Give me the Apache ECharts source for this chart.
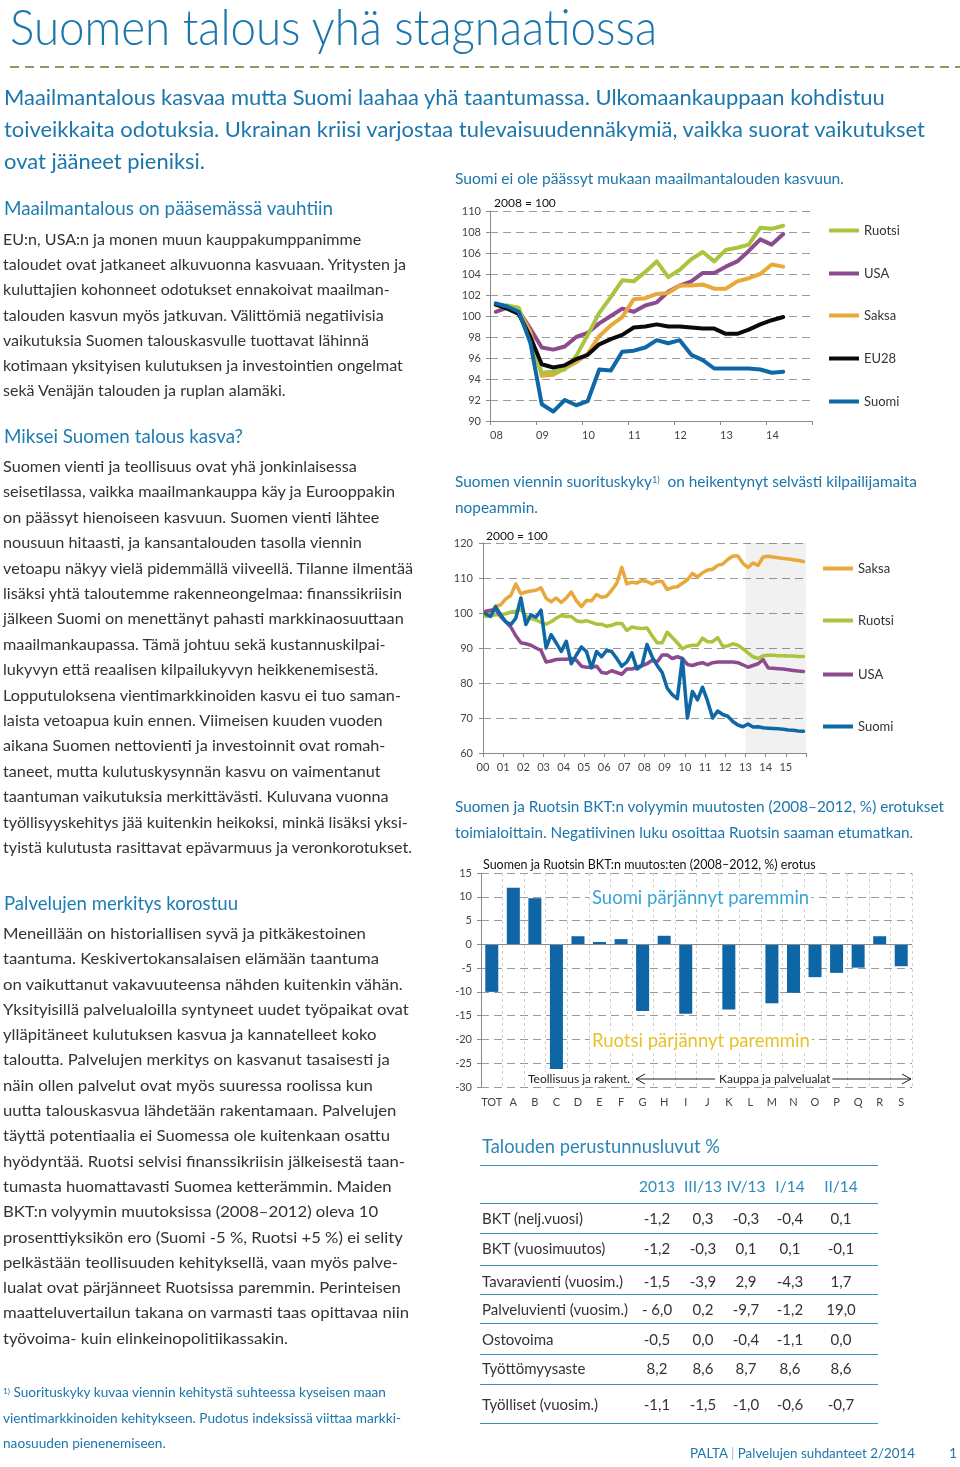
<!DOCTYPE html>
<html><head><meta charset="utf-8">
<script src="https://cdn.jsdelivr.net/npm/echarts@6/dist/echarts.min.js"></script>
<style>
html,body{margin:0;padding:0;background:#fff}
body{width:960px;height:1467px;position:relative;overflow:hidden;font-family:Lato,'Open Sans',sans-serif}
#chart{position:absolute;left:0;top:0;width:960px;height:1467px;z-index:1}
.t{position:absolute;white-space:nowrap;transform-origin:0 0;width:max-content;z-index:2}
.t div{white-space:nowrap;width:max-content}
.body{font-size:15px;color:#333}
.blue{color:#1b76ac}
.h2{font-size:19px;color:#1d7cb2}
sup{font-size:0.6em;vertical-align:top;position:relative;top:-0.1em}
.rule{position:absolute;left:480px;width:398px;height:0;border-top:1.5px solid #3f92ba;z-index:2}
.cell{position:absolute;width:70px;text-align:center;font-size:15px;color:#333;z-index:2;white-space:nowrap}
</style></head>
<body>
<div id="chart"></div>

<div class="t blue" data-w="647" style="left:10px;top:-2px;font-size:50px;line-height:56px;font-weight:300">Suomen talous yhä stagnaatiossa</div>

<div class="t blue" data-w="921" style="left:4px;top:81px;font-size:22px;line-height:32px">
<div>Maailmantalous kasvaa mutta Suomi laahaa yhä taantumassa. Ulkomaankauppaan kohdistuu</div>
<div>toiveikkaita odotuksia. Ukrainan kriisi varjostaa tulevaisuudennäkymiä, vaikka suorat vaikutukset</div>
<div>ovat jääneet pieniksi.</div>
</div>

<div class="t blue" data-w="389" style="left:455px;top:168px;font-size:15px;line-height:20px">Suomi ei ole päässyt mukaan maailmantalouden kasvuun.</div>

<div class="t h2" data-w="329" style="left:4px;top:196px;line-height:24px">Maailmantalous on pääsemässä vauhtiin</div>
<div class="t body" data-w="403" style="left:3px;top:227px;line-height:25.2px">
<div>EU:n, USA:n ja monen muun kauppakumppanimme</div>
<div>taloudet ovat jatkaneet alkuvuonna kasvuaan. Yritysten ja</div>
<div>kuluttajien kohonneet odotukset ennakoivat maailman-</div>
<div>talouden kasvun myös jatkuvan. Välittömiä negatiivisia</div>
<div>vaikutuksia Suomen talouskasvulle tuottavat lähinnä</div>
<div>kotimaan yksityisen kulutuksen ja investointien ongelmat</div>
<div>sekä Venäjän talouden ja ruplan alamäki.</div>
</div>

<div class="t h2" data-w="239" style="left:4px;top:424px;line-height:24px">Miksei Suomen talous kasva?</div>
<div class="t body" data-w="410" style="left:3px;top:454px;line-height:25.4px">
<div>Suomen vienti ja teollisuus ovat yhä jonkinlaisessa</div>
<div>seisetilassa, vaikka maailmankauppa käy ja Eurooppakin</div>
<div>on päässyt hienoiseen kasvuun. Suomen vienti lähtee</div>
<div>nousuun hitaasti, ja kansantalouden tasolla viennin</div>
<div>vetoapu näkyy vielä pidemmällä viiveellä. Tilanne ilmentää</div>
<div>lisäksi yhtä taloutemme rakenneongelmaa: finanssikriisin</div>
<div>jälkeen Suomi on menettänyt pahasti markkinaosuuttaan</div>
<div>maailmankaupassa. Tämä johtuu sekä kustannuskilpai-</div>
<div>lukyvyn että reaalisen kilpailukyvyn heikkenemisestä.</div>
<div>Lopputuloksena vientimarkkinoiden kasvu ei tuo saman-</div>
<div>laista vetoapua kuin ennen. Viimeisen kuuden vuoden</div>
<div>aikana Suomen nettovienti ja investoinnit ovat romah-</div>
<div>taneet, mutta kulutuskysynnän kasvu on vaimentanut</div>
<div>taantuman vaikutuksia merkittävästi. Kuluvana vuonna</div>
<div>työllisyyskehitys jää kuitenkin heikoksi, minkä lisäksi yksi-</div>
<div>tyistä kulutusta rasittavat epävarmuus ja veronkorotukset.</div>
</div>

<div class="t h2" data-w="234" style="left:4px;top:891px;line-height:24px">Palvelujen merkitys korostuu</div>
<div class="t body" data-w="406" style="left:3px;top:921px;line-height:25.3px">
<div>Meneillään on historiallisen syvä ja pitkäkestoinen</div>
<div>taantuma. Keskivertokansalaisen elämään taantuma</div>
<div>on vaikuttanut vakavuuteensa nähden kuitenkin vähän.</div>
<div>Yksityisillä palvelualoilla syntyneet uudet työpaikat ovat</div>
<div>ylläpitäneet kulutuksen kasvua ja kannatelleet koko</div>
<div>taloutta. Palvelujen merkitys on kasvanut tasaisesti ja</div>
<div>näin ollen palvelut ovat myös suuressa roolissa kun</div>
<div>uutta talouskasvua lähdetään rakentamaan. Palvelujen</div>
<div>täyttä potentiaalia ei Suomessa ole kuitenkaan osattu</div>
<div>hyödyntää. Ruotsi selvisi finanssikriisin jälkeisestä taan-</div>
<div>tumasta huomattavasti Suomea ketterämmin. Maiden</div>
<div>BKT:n volyymin muutoksissa (2008–2012) oleva 10</div>
<div>prosenttiyksikön ero (Suomi -5 %, Ruotsi +5 %) ei selity</div>
<div>pelkästään teollisuuden kehityksellä, vaan myös palve-</div>
<div>lualat ovat pärjänneet Ruotsissa paremmin. Perinteisen</div>
<div>maatteluvertailun takana on varmasti taas opittavaa niin</div>
<div>työvoima- kuin elinkeinopolitiikassakin.</div>
</div>

<div class="t blue" data-w="398" style="left:3px;top:1380px;font-size:13.5px;line-height:25.5px">
<div><sup>1)</sup> Suorituskyky kuvaa viennin kehitystä suhteessa kyseisen maan</div>
<div>vientimarkkinoiden kehitykseen. Pudotus indeksissä viittaa markki-</div>
<div>naosuuden pienenemiseen.</div>
</div>

<div class="t blue" data-w="462" style="left:455px;top:468px;font-size:15px;line-height:26px">
<div>Suomen viennin suorituskyky<sup>1)</sup>&nbsp; on heikentynyt selvästi kilpailijamaita</div>
<div>nopeammin.</div>
</div>

<div class="t blue" data-w="489" style="left:455px;top:793px;font-size:16px;line-height:26px">
<div>Suomen ja Ruotsin BKT:n volyymin muutosten (2008–2012, %) erotukset</div>
<div>toimialoittain. Negatiivinen luku osoittaa Ruotsin saaman etumatkan.</div>
</div>

<div class="t" data-w="238" style="left:482px;top:1133px;font-size:19px;line-height:26px;color:#2a86b5">Talouden perustunnusluvut %</div>
<div id="table"></div>

<div class="t" data-w="225" style="left:690px;top:1444px;font-size:14px;line-height:18px;color:#1b76ac">PALTA <span style="color:#9cc6dc">|</span> Palvelujen suhdanteet 2/2014</div>
<div class="t" style="left:949px;top:1444px;font-size:14px;line-height:18px;color:#1b76ac">1</div>

<script>
// ---------- Chart 1: 2008 = 100 (quarterly) ----------
const periods1 = ['2008Q1','2008Q2','2008Q3','2008Q4','2009Q1','2009Q2','2009Q3','2009Q4','2010Q1','2010Q2','2010Q3','2010Q4','2011Q1','2011Q2','2011Q3','2011Q4','2012Q1','2012Q2','2012Q3','2012Q4','2013Q1','2013Q2','2013Q3','2013Q4','2014Q1','2014Q2'];
const ruotsi1 = [101.0,101.0,100.8,97.5,94.6,94.7,94.9,96.2,98.2,100.3,101.8,103.4,103.3,104.2,105.2,103.7,104.4,105.4,106.1,105.2,106.3,106.5,106.8,108.4,108.3,108.6];
const usa1    = [100.4,100.8,100.5,98.8,97.0,96.8,97.1,98.0,98.4,99.3,100.0,100.7,100.4,101.0,101.3,102.3,102.9,103.3,104.1,104.1,104.7,105.2,106.2,107.3,106.8,107.8];
const saksa1  = [101.1,100.9,100.5,98.5,94.3,94.4,95.0,95.6,96.4,98.1,99.1,99.9,101.6,101.7,102.1,102.2,102.9,102.9,103.0,102.6,102.6,103.3,103.6,104.0,104.9,104.7];
const eu1     = [101.1,100.7,100.2,98.0,95.4,95.1,95.3,95.9,96.3,97.3,97.8,98.2,98.9,99.0,99.2,99.0,99.0,98.9,98.8,98.8,98.3,98.3,98.7,99.2,99.6,99.9];
const suomi1  = [101.2,100.9,100.4,97.5,91.6,90.9,92.0,91.5,91.9,94.9,94.8,96.6,96.7,97.0,97.7,97.4,97.7,96.3,95.8,95.0,95.0,95.0,95.0,94.9,94.6,94.7];

// ---------- Chart 2: 2000 = 100 (quarterly) ----------
const periods2 = ['2000Q1','2000Q2','2000Q3','2000Q4','2001Q1','2001Q2','2001Q3','2001Q4','2002Q1','2002Q2','2002Q3','2002Q4','2003Q1','2003Q2','2003Q3','2003Q4','2004Q1','2004Q2','2004Q3','2004Q4','2005Q1','2005Q2','2005Q3','2005Q4','2006Q1','2006Q2','2006Q3','2006Q4','2007Q1','2007Q2','2007Q3','2007Q4','2008Q1','2008Q2','2008Q3','2008Q4','2009Q1','2009Q2','2009Q3','2009Q4','2010Q1','2010Q2','2010Q3','2010Q4','2011Q1','2011Q2','2011Q3','2011Q4','2012Q1','2012Q2','2012Q3','2012Q4','2013Q1','2013Q2','2013Q3','2013Q4','2014Q1','2014Q2','2014Q3','2014Q4','2015Q1','2015Q2','2015Q3','2015Q4'];
const saksa2  = [100.0,99.8,102.0,102.3,104.0,105.0,108.3,105.5,106.0,106.3,106.5,107.2,104.2,103.2,104.3,103.0,104.3,106.0,103.5,101.8,103.6,103.5,105.3,104.5,104.8,106.5,108.5,113.0,108.3,108.8,108.6,109.3,109.0,108.3,109.0,109.0,106.7,107.3,107.5,108.5,109.5,111.3,110.3,111.5,112.3,112.5,113.6,114.0,115.3,116.3,116.3,114.2,113.0,114.3,113.6,116.0,116.2,116.0,115.8,115.6,115.4,115.2,115.0,114.7];
const ruotsi2 = [99.0,99.3,99.5,99.6,99.8,100.2,100.5,101.0,99.0,98.5,98.0,97.3,96.8,97.5,98.5,99.3,99.0,99.0,97.8,97.5,97.8,97.3,96.8,96.8,96.2,96.5,97.0,97.0,95.0,96.0,95.7,95.6,95.7,93.5,91.5,91.5,94.5,93.0,91.5,89.8,90.5,90.8,90.8,92.8,91.8,91.8,93.0,90.5,90.6,91.2,90.8,89.8,88.6,87.5,87.0,87.8,87.9,87.9,87.8,87.8,87.7,87.7,87.6,87.6];
const usa2    = [100.5,100.8,101.0,99.0,97.5,96.0,93.5,91.5,91.2,90.8,90.0,89.3,86.0,86.3,86.7,86.8,86.8,87.0,86.5,84.8,84.5,84.5,84.8,83.0,82.8,83.5,83.0,82.5,84.0,84.0,84.5,85.0,85.5,86.5,86.0,88.0,88.0,87.0,87.5,87.0,85.3,85.0,85.5,85.8,85.2,85.8,86.0,86.0,86.0,86.0,85.8,85.2,84.5,85.0,85.5,86.7,84.3,84.2,84.1,84.0,83.8,83.6,83.4,83.3];
const suomi2  = [99.8,99.0,101.8,99.5,97.5,96.7,98.5,104.3,96.7,99.5,98.8,100.8,90.0,93.8,91.5,89.0,91.9,85.5,88.0,90.3,89.0,84.3,89.0,87.5,89.3,89.0,87.0,84.8,86.0,88.6,84.0,85.0,91.0,87.5,85.0,83.0,78.5,76.7,75.5,87.0,70.0,77.6,75.2,78.8,74.8,70.0,72.0,71.0,70.5,69.0,68.0,67.5,68.3,67.4,67.5,67.2,67.1,67.0,66.9,66.8,66.6,66.5,66.3,66.2];
const forecastFrom2 = 2013, forecastTo2 = 2016;

// ---------- Chart 3: bars ----------
const cats3 = ['TOT','A','B','C','D','E','F','G','H','I','J','K','L','M','N','O','P','Q','R','S'];
const diff3 = [-10.0,11.9,9.7,-26.2,1.7,0.5,1.1,-14.0,1.8,-14.6,0,-13.7,0,-12.4,-10.2,-6.9,-6.0,-4.9,1.7,-4.6];

// ---------- Table ----------
const tableHeads = ['2013','III/13','IV/13','I/14','II/14'];
const tableLabels = ['BKT (nelj.vuosi)','BKT (vuosimuutos)','Tavaravienti (vuosim.)','Palveluvienti (vuosim.)','Ostovoima','Työttömyysaste','Työlliset (vuosim.)'];
const tableValues = [
  ['-1,2','0,3','-0,3','-0,4','0,1'],
  ['-1,2','-0,3','0,1','0,1','-0,1'],
  ['-1,5','-3,9','2,9','-4,3','1,7'],
  ['- 6,0','0,2','-9,7','-1,2','19,0'],
  ['-0,5','0,0','-0,4','-1,1','0,0'],
  ['8,2','8,6','8,7','8,6','8,6'],
  ['-1,1','-1,5','-1,0','-0,6','-0,7']
];

// ---- table build ----
(function(){
  const colX = [657,703,746,790,841];
  const rowY = [1218,1248,1281,1309,1339,1368,1404];
  const rules = [1165,1203,1233,1265,1294,1323,1354,1384,1423];
  const tb = document.getElementById('table');
  let html = '';
  rules.forEach(y => html += `<div class="rule" style="top:${y}px"></div>`);
  tableHeads.forEach((h,i) => html += `<div class="cell" style="left:${colX[i]-35}px;top:${1186-10}px;line-height:20px;color:#2a8cbc;font-size:15.5px">${h}</div>`);
  tableLabels.forEach((l,r) => {
    html += `<div class="cell" style="left:482px;width:auto;text-align:left;top:${rowY[r]-10}px;line-height:20px">${l}</div>`;
    tableValues[r].forEach((v,i) => html += `<div class="cell" style="left:${colX[i]-35}px;top:${rowY[r]-10}px;line-height:20px">${v}</div>`);
  });
  tb.innerHTML = html;
})();

function fitAll(){
  document.querySelectorAll('.t[data-w]').forEach(el => {
    el.style.transform = 'none';
    const w = el.getBoundingClientRect().width;
    const target = +el.dataset.w;
    if (w > 0) el.style.transform = `scaleX(${target / w})`;
  });
}
fitAll();
if (document.fonts && document.fonts.ready) document.fonts.ready.then(fitAll);

// ---- ECharts ----
const FONT = 'Lato, "Open Sans", sans-serif';
const toX = p => +p.slice(0,4) + (+p.slice(5) - 0.5) / 4;
const pairs = (per, vals) => per.map((p,i) => [toX(p), vals[i]]);

const C = {ruotsi:'#a9c43d', usa:'#8d4b8f', saksa:'#e9a83a', eu:'#0a0a0a', suomi:'#0f68a6'};
const grayAxis = {lineStyle:{color:'#8a8a8a', width:1}};
const dashSplit = {show:true, lineStyle:{color:'#9a9a9a', type:[8,5], width:1}};
const lab = {color:'#444', fontSize:11, fontFamily:FONT};

function lineSeries(name, per, vals, color, xi, w){
  return {name, type:'line', xAxisIndex:xi, yAxisIndex:xi, data:pairs(per, vals),
    symbol:'none', lineStyle:{color, width:w, cap:'round', join:'round'}, itemStyle:{color}, silent:true, animation:false};
}

function legendItem(name, left, top){
  return {show:true, data:[name], left, top, orient:'vertical', padding:0, selectedMode:false,
    icon:'rect', itemWidth:30, itemHeight:4, itemGap:0,
    textStyle:{color:'#333', fontSize:13, fontFamily:FONT, padding:[0,0,0,0]}};
}

const series = [
  lineSeries('USA', periods1, usa1, C.usa, 0, 4),
  lineSeries('Saksa', periods1, saksa1, C.saksa, 0, 4),
  lineSeries('Ruotsi', periods1, ruotsi1, C.ruotsi, 0, 4),
  lineSeries('EU28', periods1, eu1, C.eu, 0, 4),
  lineSeries('Suomi', periods1, suomi1, C.suomi, 0, 4),
  lineSeries('Saksa', periods2, saksa2, C.saksa, 1, 3.5),
  lineSeries('Ruotsi', periods2, ruotsi2, C.ruotsi, 1, 3.5),
  lineSeries('USA', periods2, usa2, C.usa, 1, 3.5),
  lineSeries('Suomi', periods2, suomi2, C.suomi, 1, 3.5),
  {type:'bar', xAxisIndex:2, yAxisIndex:2, data:diff3, barWidth:13, itemStyle:{color:'#0e66a6'}, silent:true, animation:false,
   markLine:{silent:true, symbol:'none', label:{show:false}, lineStyle:{color:'#8a8a8a', type:'solid', width:1.2}, data:[{yAxis:0}]}}
];
series[5].markArea = {silent:true, itemStyle:{color:'rgba(0,0,0,0.055)'}, data:[[{xAxis:forecastFrom2},{xAxis:forecastTo2}]]};

const annot = (text, x, y, fill, size, bg) => ({type:'text', silent:true, x, y, z:50,
  style:{text, fill, fontSize:size, fontFamily:FONT, verticalAlign:'middle', backgroundColor:bg || 'transparent', padding:bg ? [1,2] : 0}});

const option = {
  animation:false,
  textStyle:{fontFamily:FONT},
  grid:[
    {left:490, top:211, width:322, height:210},
    {left:483, top:543, width:323, height:210},
    {left:481, top:873, width:431, height:214}
  ],
  xAxis:[
    {gridIndex:0, type:'value', min:2008, max:2015, interval:1, axisLine:grayAxis,
     axisTick:{show:true, length:4, lineStyle:{color:'#8a8a8a'}}, splitLine:{show:false},
     axisLabel:Object.assign({}, lab, {align:'left', margin:9, showMaxLabel:true, formatter:v => v < 2015 ? String(v).slice(2) : ''})},
    {gridIndex:1, type:'value', min:2000, max:2016, interval:1, axisLine:grayAxis,
     axisTick:{show:true, length:4, lineStyle:{color:'#8a8a8a'}}, splitLine:{show:false},
     axisLabel:Object.assign({}, lab, {margin:9, formatter:v => v < 2016 ? String(v).slice(2) : ''})},
    {gridIndex:2, type:'category', data:cats3, axisLine:{show:false, onZero:false}, axisTick:{show:false},
     splitLine:{show:true, interval:0, lineStyle:{color:'#cfcfcf', type:[3,3], width:1}},
     axisLabel:Object.assign({}, lab, {margin:10, interval:0})}
  ],
  yAxis:[
    {gridIndex:0, type:'value', min:90, max:110, interval:2, axisLine:Object.assign({show:true}, grayAxis),
     axisTick:{show:true, length:4, lineStyle:{color:'#8a8a8a'}}, splitLine:dashSplit, axisLabel:Object.assign({}, lab, {margin:9})},
    {gridIndex:1, type:'value', min:60, max:120, interval:10, axisLine:Object.assign({show:true}, grayAxis),
     axisTick:{show:true, length:4, lineStyle:{color:'#8a8a8a'}}, splitLine:dashSplit, axisLabel:Object.assign({}, lab, {margin:10})},
    {gridIndex:2, type:'value', min:-30, max:15, interval:5, axisLine:Object.assign({show:true}, grayAxis),
     axisTick:{show:true, length:4, lineStyle:{color:'#8a8a8a'}}, splitLine:dashSplit, axisLabel:Object.assign({}, lab, {margin:9})}
  ],
  legend:[
    legendItem('Ruotsi', 829, 224), legendItem('USA', 829, 267), legendItem('Saksa', 829, 309),
    legendItem('EU28', 829, 352), legendItem('Suomi', 829, 395),
    Object.assign(legendItem('Saksa', 823, 562), {id:'l2a'}),
    Object.assign(legendItem('Ruotsi', 823, 614), {id:'l2b'}),
    Object.assign(legendItem('USA', 823, 668), {id:'l2c'}),
    Object.assign(legendItem('Suomi', 823, 720), {id:'l2d'})
  ],
  graphic:[
    {type:'line', silent:true, shape:{x1:10, y1:67, x2:960, y2:67}, style:{stroke:'#8d9b5a', lineWidth:2, lineDash:[9,6]}},
    annot('2008 = 100', 492, 203, '#111', 12, '#fff'),
    annot('2000 = 100', 484, 536, '#111', 12, '#fff'),
    annot('Suomen ja Ruotsin BKT:n muutos:ten (2008–2012, %) erotus', 481, 865, '#111', 12.5, '#fff'),
    annot('Suomi pärjännyt paremmin', 590, 898, '#3aa3d6', 18.5, '#fff'),
    annot('Ruotsi pärjännyt paremmin', 590, 1041, '#e7c22c', 18.5, '#fff'),
    annot('Teollisuus ja rakent.', 526, 1079, '#222', 12, '#fff'),
    annot('Kauppa ja palvelualat', 717, 1079, '#222', 12, '#fff'),
    {type:'line', silent:true, z:40, shape:{x1:636, y1:1079, x2:715, y2:1079}, style:{stroke:'#222', lineWidth:1}},
    {type:'polyline', silent:true, z:40, shape:{points:[[645,1074],[636,1079],[645,1084]]}, style:{stroke:'#222', lineWidth:1, fill:null}},
    {type:'line', silent:true, z:40, shape:{x1:830, y1:1079, x2:911, y2:1079}, style:{stroke:'#222', lineWidth:1}},
    {type:'polyline', silent:true, z:40, shape:{points:[[902,1074],[911,1079],[902,1084]]}, style:{stroke:'#222', lineWidth:1, fill:null}}
  ],
  series
};
const chart = echarts.init(document.getElementById('chart'), null, {renderer:'canvas'});
chart.setOption(option);
</script>
</body></html>
